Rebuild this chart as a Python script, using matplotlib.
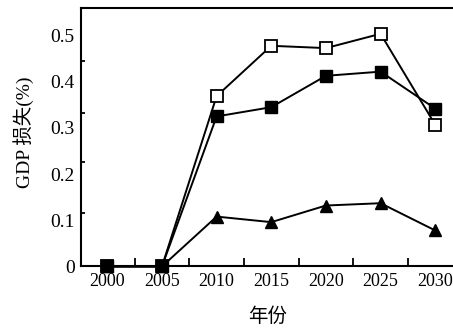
import matplotlib
matplotlib.use("Agg")
import matplotlib.pyplot as plt
import numpy as np

plt.rcParams['font.family'] = ['Liberation Serif', 'Noto Sans CJK SC']

years = ["2000", "2005", "2010", "2015", "2020", "2025", "2030"]
hollow_sq = [0, 0, 0.369, 0.478, 0.473, 0.504, 0.307]
filled_sq = [0, 0, 0.325, 0.345, 0.413, 0.422, 0.342]
triangle = [0, 0, 0.108, 0.096, 0.132, 0.137, 0.078]
y_labels = ["0", "0.1", "0.2", "0.3", "0.4", "0.5"]

fig = plt.figure(figsize=(4.53, 3.31), dpi=100)
ax = fig.add_axes([0.179, 0.195, 0.83, 0.781])

x = np.arange(len(years))
lw = 1.4
ax.plot(x, triangle, color='black', lw=lw, marker='^', ms=8.5,
        mfc='black', mec='black', clip_on=False, zorder=3)
ax.plot(x, hollow_sq, color='black', lw=lw, marker='s', ms=8.3,
        mfc='white', mec='black', mew=1.3, clip_on=False, zorder=4)
ax.plot(x, filled_sq, color='black', lw=lw, marker='s', ms=8.7,
        mfc='black', mec='black', clip_on=False, zorder=5)

ax.set_xlim(-0.48, 6.4)
ax.set_ylim(0, 0.56)

# labels without tick marks
ax.set_xticks(x)
ax.set_xticklabels(years, fontsize=13)
ax.tick_params(axis='x', which='major', length=0, pad=4.5)
ax.set_xticks(x[:-1] + 0.5, minor=True)
ax.tick_params(axis='x', which='minor', direction='in', length=6, width=1.3)

ax.set_yticks([0, 0.1, 0.2, 0.3, 0.4, 0.5])
ax.set_yticklabels(y_labels, fontsize=14)
ax.tick_params(axis='y', which='major', length=0, pad=4.5)
ax.set_yticks([0.116, 0.226, 0.332, 0.445], minor=True)
ax.tick_params(axis='y', which='minor', direction='in', length=3, width=1.3)

for s in ['left', 'bottom', 'top']:
    ax.spines[s].set_linewidth(1.5)
ax.spines['right'].set_visible(False)

ax.set_xlabel("年份", fontsize=14)
ax.xaxis.label.set_va('center')
ax.xaxis.set_label_coords(0.497, -0.195)
ax.set_ylabel("GDP 损失(%)", fontsize=14)
ax.yaxis.label.set_va('center')
ax.yaxis.set_label_coords(-0.154, 0.52)

fig.savefig("out.png", dpi=100)
